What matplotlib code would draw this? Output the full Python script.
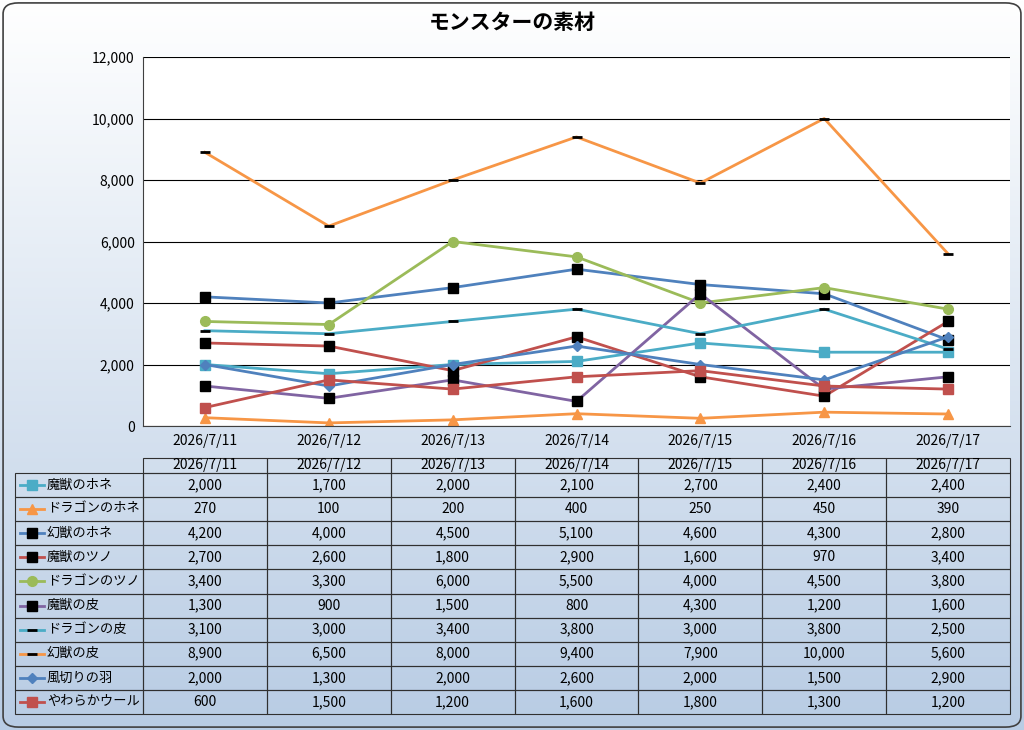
import numpy as np
import matplotlib
matplotlib.use('Agg')
import matplotlib.pyplot as plt
from matplotlib.patches import FancyBboxPatch, Rectangle
plt.rcParams['font.family'] = ['Noto Sans CJK JP', 'DejaVu Sans']

dates = ['2026/7/11', '2026/7/12', '2026/7/13', '2026/7/14', '2026/7/15', '2026/7/16', '2026/7/17']
names = ['魔獣のホネ', 'ドラゴンのホネ', '幻獣のホネ', '魔獣のツノ', 'ドラゴンのツノ',
         '魔獣の皮', 'ドラゴンの皮', '幻獣の皮', '風切りの羽', 'やわらかウール']
values = [
    [2000, 1700, 2000, 2100, 2700, 2400, 2400],
    [270, 100, 200, 400, 250, 450, 390],
    [4200, 4000, 4500, 5100, 4600, 4300, 2800],
    [2700, 2600, 1800, 2900, 1600, 970, 3400],
    [3400, 3300, 6000, 5500, 4000, 4500, 3800],
    [1300, 900, 1500, 800, 4300, 1200, 1600],
    [3100, 3000, 3400, 3800, 3000, 3800, 2500],
    [8900, 6500, 8000, 9400, 7900, 10000, 5600],
    [2000, 1300, 2000, 2600, 2000, 1500, 2900],
    [600, 1500, 1200, 1600, 1800, 1300, 1200],
]
colors = ['#4bacc6', '#f79646', '#4f81bd', '#c0504d', '#9bbb59',
          '#8064a2', '#4bacc6', '#f79646', '#4f81bd', '#c0504d']
# (marker, marker face colour, size)
markers = [('s', '#4bacc6', 7), ('^', '#f79646', 7), ('s', 'black', 7), ('s', 'black', 7),
           ('o', '#9bbb59', 7), ('s', 'black', 7), ('_', 'black', 7), ('_', 'black', 7),
           ('D', '#4f81bd', 5), ('s', '#c0504d', 7)]

W, H = 1024, 730
fig = plt.figure(figsize=(W / 100, H / 100), dpi=100)

# background gradient
bg = fig.add_axes([0, 0, 1, 1], zorder=-10)
grad = np.linspace(0, 1, 256).reshape(-1, 1)
cmap = matplotlib.colors.LinearSegmentedColormap.from_list('g', ['#ffffff', '#b8cce4'])
bg.imshow(grad, aspect='auto', cmap=cmap, extent=[0, 1, 0, 1], origin='upper')
bg.set_xlim(0, 1); bg.set_ylim(0, 1); bg.axis('off')
bg.add_patch(FancyBboxPatch((0.003, 0.004), 0.994, 0.992, boxstyle='round,pad=0,rounding_size=0.015',
                            fill=False, ec='#404040', lw=1.2, transform=bg.transAxes))
fig.text(0.5, 1 - 22 / H, 'モンスターの素材', ha='center', va='center', fontsize=15, fontweight='bold')

# line chart
L, R, T, B = 143, 1010, 57, 426
ax = fig.add_axes([L / W, 1 - B / H, (R - L) / W, (B - T) / H])
ax.set_facecolor('white')
x = np.arange(7) + 0.5
for v, c, (m, mc, ms) in zip(values, colors, markers):
    ax.plot(x, v, color=c, lw=2, marker=m, mfc=mc, mec=mc, ms=ms, mew=2 if m == '_' else 1)
ax.set_xlim(0, 7)
ax.set_ylim(0, 12000)
ax.set_yticks(range(0, 12001, 2000))
ax.set_yticklabels([f'{t:,}' for t in range(0, 12001, 2000)], fontsize=10)
ax.yaxis.grid(True, color='black', lw=0.8)
ax.set_axisbelow(True)
ax.set_xticks(x)
ax.set_xticklabels(dates, fontsize=10)
ax.tick_params(length=0, pad=6)
for s in ['top', 'right']:
    ax.spines[s].set_visible(False)
ax.spines['left'].set_color('#404040')
ax.spines['bottom'].set_color('#404040')

# data table
tb = fig.add_axes([0, 0, 1, 1], zorder=5)
tb.set_xlim(0, W); tb.set_ylim(H, 0); tb.axis('off')
top, hdr, rowh = 458, 473, 24.1
cw = (R - L) / 7
lc = '#303030'
# header row
for i, d in enumerate(dates):
    x0 = L + i * cw
    tb.add_patch(Rectangle((x0, top), cw, hdr - top, fill=False, ec=lc, lw=0.8))
    tb.text(x0 + cw / 2, (top + hdr) / 2, d, ha='center', va='center', fontsize=10)
for r, (n, v, c, (m, mc, ms)) in enumerate(zip(names, values, colors, markers)):
    y0 = hdr + r * rowh
    yc = y0 + rowh / 2
    tb.add_patch(Rectangle((15, y0), L - 15, rowh, fill=False, ec=lc, lw=0.8))
    tb.plot([20, 44], [yc, yc], color=c, lw=2)
    tb.plot([32], [yc], marker=m, mfc=mc, mec=mc, ms=ms, mew=2 if m == '_' else 1)
    tb.text(47, yc, n, ha='left', va='center', fontsize=9.5)
    for i in range(7):
        x0 = L + i * cw
        tb.add_patch(Rectangle((x0, y0), cw, rowh, fill=False, ec=lc, lw=0.8))
        tb.text(x0 + cw / 2, yc, f'{v[i]:,}', ha='center', va='center', fontsize=10)

fig.savefig('out.png', dpi=100)
